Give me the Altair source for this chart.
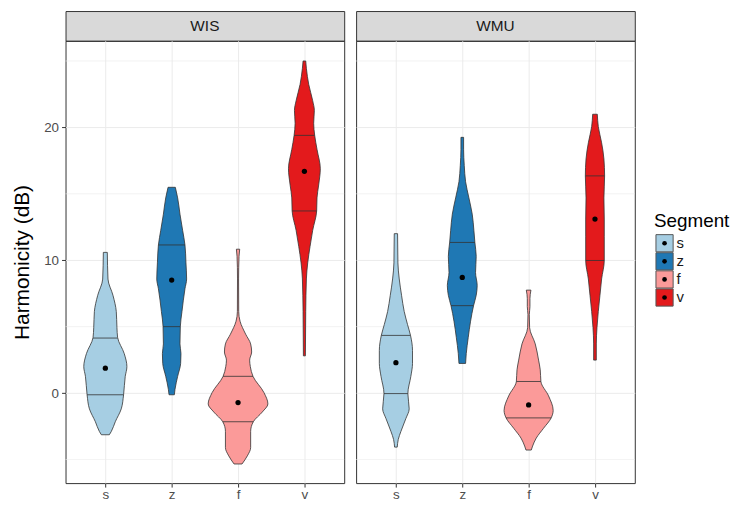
import altair as alt
import pandas as pd

FONT = "Liberation Sans"

segments = ["s", "z", "f", "v"]
facets = ["WIS", "WMU"]
fill_colors = ["#a6cee3", "#1f78b4", "#fb9a99", "#e31a1c"]
y_ticks = [0, 10, 20]
minor_ticks = [-5, 5, 15, 25]
y_range = [-6.78, 26.52]

# violin profiles: y (dB) and half-width (category units)
wis_s_y = [10.59, 8.58, 7.36, 6.14, 4.92, 4.19, 2.97, 1.99, 1.26, -0.13, -1.19, -2.16, -2.89, -3.14]
wis_s_w = [0.03, 0.04, 0.115, 0.165, 0.175, 0.185, 0.285, 0.325, 0.30, 0.275, 0.24, 0.15, 0.09, 0.06]
wis_z_y = [15.49, 14.69, 13.47, 12.25, 11.15, 9.80, 8.59, 7.85, 6.14, 5.00, 3.70, 2.97, 2.23, 1.26, 0.28, -0.13]
wis_z_w = [0.055, 0.09, 0.125, 0.165, 0.20, 0.215, 0.225, 0.20, 0.155, 0.13, 0.125, 0.14, 0.135, 0.09, 0.05, 0.04]
wis_f_y = [10.83, 10.29, 8.59, 6.14, 5.41, 4.43, 3.70, 3.09, 2.48, 1.99, 1.26, 0.04, -0.82, -1.43, -2.16, -2.89, -4.11, -4.73, -5.34]
wis_f_w = [0.025, 0.015, 0.008, 0.01, 0.03, 0.115, 0.19, 0.205, 0.175, 0.185, 0.225, 0.39, 0.45, 0.365, 0.23, 0.19, 0.19, 0.14, 0.06]
wis_v_y = [25.0, 24.45, 23.24, 22.01, 21.28, 20.31, 19.40, 18.35, 16.89, 15.66, 14.69, 13.71, 12.25, 11.03, 9.80, 8.59, 6.14, 2.80]
wis_v_w = [0.02, 0.03, 0.065, 0.125, 0.15, 0.14, 0.155, 0.19, 0.24, 0.215, 0.19, 0.185, 0.125, 0.085, 0.05, 0.03, 0.02, 0.015]

wmu_s_y = [12.0, 9.80, 8.59, 7.36, 6.14, 5.16, 4.34, 3.21, 2.23, 1.26, -0.04, -1.19, -1.92, -2.89, -3.50, -4.07]
wmu_s_w = [0.025, 0.03, 0.05, 0.085, 0.125, 0.175, 0.22, 0.25, 0.25, 0.225, 0.18, 0.2, 0.15, 0.075, 0.035, 0.02]
wmu_z_y = [19.25, 18.35, 17.13, 15.91, 14.69, 13.47, 12.25, 11.34, 10.29, 9.07, 8.10, 7.36, 6.58, 5.41, 4.19, 2.97, 2.23]
wmu_z_w = [0.02, 0.02, 0.03, 0.05, 0.10, 0.15, 0.175, 0.19, 0.21, 0.2, 0.225, 0.21, 0.17, 0.125, 0.09, 0.06, 0.05]
wmu_f_y = [7.75, 7.12, 6.51, 5.90, 4.92, 3.70, 2.48, 1.75, 0.87, -0.21, -1.31, -1.87, -2.65, -3.39, -3.99, -4.29]
wmu_f_w = [0.035, 0.02, 0.02, 0.01, 0.015, 0.10, 0.15, 0.175, 0.185, 0.30, 0.37, 0.34, 0.225, 0.115, 0.06, 0.04]
wmu_v_y = [20.99, 20.06, 18.84, 17.62, 16.35, 14.69, 13.10, 11.76, 9.98, 8.59, 7.36, 6.14, 4.92, 3.70, 2.48]
wmu_v_w = [0.035, 0.05, 0.10, 0.135, 0.145, 0.135, 0.14, 0.14, 0.14, 0.10, 0.075, 0.05, 0.03, 0.02, 0.02]

# means
wis_mean = [1.87, 8.51, -0.72, 16.69]
wmu_mean = [2.29, 8.70, -0.89, 13.10]

# quartiles (value and half-width of the violin there)
wis_q1 = [-0.13, 5.00, -2.16, 13.71]
wis_q1_w = [0.275, 0.13, 0.23, 0.185]
wis_q3 = [4.14, 11.15, 1.26, 19.40]
wis_q3_w = [0.185, 0.20, 0.225, 0.155]
wmu_q1 = [-0.04, 6.58, -1.87, 9.98]
wmu_q1_w = [0.18, 0.17, 0.34, 0.14]
wmu_q3 = [4.34, 11.34, 0.87, 16.35]
wmu_q3_w = [0.22, 0.19, 0.185, 0.145]

profiles = {
    "WIS": [(wis_s_y, wis_s_w), (wis_z_y, wis_z_w), (wis_f_y, wis_f_w), (wis_v_y, wis_v_w)],
    "WMU": [(wmu_s_y, wmu_s_w), (wmu_z_y, wmu_z_w), (wmu_f_y, wmu_f_w), (wmu_v_y, wmu_v_w)],
}
means = {"WIS": wis_mean, "WMU": wmu_mean}
quarts = {
    "WIS": [(wis_q1, wis_q1_w), (wis_q3, wis_q3_w)],
    "WMU": [(wmu_q1, wmu_q1_w), (wmu_q3, wmu_q3_w)],
}

PW, PH, SH = 281, 446, 30

cscale = alt.Scale(domain=segments, range=fill_colors)
xscale = alt.Scale(domain=[-0.6, len(segments) - 0.4], nice=False, zero=False)
yscale = alt.Scale(domain=y_range, nice=False, zero=False)
label_expr = "[" + ",".join("'%s'" % s for s in segments) + "][datum.value]"


def body(p, first):
    vrows = []
    for i, s in enumerate(segments):
        ys, ws = profiles[p][i]
        for yv, wv in zip(ys, ws):
            vrows.append({"seg": s, "idx": i, "y": yv, "w": wv})
    qrows = []
    for vals, widths in quarts[p]:
        for i, s in enumerate(segments):
            qrows.append({"seg": s, "idx": i, "y": vals[i], "w": widths[i]})
    mrows = [{"seg": s, "idx": i, "y": means[p][i]} for i, s in enumerate(segments)]

    if first:
        yax = alt.Axis(values=y_ticks, grid=True, title="Harmonicity (dB)", titlePadding=11)
    else:
        yax = alt.Axis(values=y_ticks, grid=True, labels=False, ticks=False, title=None)
    xax = alt.Axis(values=list(range(len(segments))), labelExpr=label_expr, grid=True,
                   title=None, labelPadding=1)

    minor = alt.Chart(pd.DataFrame({"g": minor_ticks})).mark_rule(
        color="#ebebeb", strokeWidth=0.6
    ).encode(y=alt.Y("g:Q", scale=yscale, axis=yax))

    violins = alt.Chart(pd.DataFrame(vrows)).transform_calculate(
        lo="datum.idx - datum.w", hi="datum.idx + datum.w"
    ).mark_area(
        orient="horizontal", interpolate="monotone", stroke="#333333", strokeWidth=0.8, opacity=1
    ).encode(
        y=alt.Y("y:Q", scale=yscale),
        x=alt.X("lo:Q", scale=xscale, axis=xax),
        x2="hi:Q",
        color=alt.Color("seg:N", scale=cscale, legend=None),
    )

    qlines = alt.Chart(pd.DataFrame(qrows)).transform_calculate(
        lo="datum.idx - datum.w", hi="datum.idx + datum.w"
    ).mark_rule(color="#333333", strokeWidth=0.8).encode(
        y=alt.Y("y:Q", scale=yscale), x=alt.X("lo:Q", scale=xscale), x2="hi:Q"
    )

    dots = alt.Chart(pd.DataFrame(mrows)).mark_circle(color="black", size=28, opacity=1).encode(
        x=alt.X("idx:Q", scale=xscale), y=alt.Y("y:Q", scale=yscale)
    )

    return alt.layer(minor, violins, qlines, dots).properties(
        width=PW, height=PH, view=alt.ViewBackground(stroke="#333333", strokeWidth=1)
    )


def strip(p):
    return alt.Chart(pd.DataFrame({"panel": [p]})).mark_text(
        font=FONT, fontSize=15.5, color="#1a1a1a"
    ).encode(text="panel:N").properties(
        width=PW, height=SH,
        view=alt.ViewBackground(fill="#d9d9d9", stroke="#333333", strokeWidth=1),
    )


panel_charts = [
    alt.vconcat(strip(p), body(p, k == 0), spacing=0, bounds="flush")
    for k, p in enumerate(facets)
]

ldf = pd.DataFrame({"seg": segments})
ly = alt.Y("seg:N", sort=segments, axis=None)
keys = alt.layer(
    alt.Chart(ldf).mark_square(size=300, opacity=1, stroke="#555555", strokeWidth=1).encode(
        y=ly, color=alt.Color("seg:N", scale=cscale, legend=None)
    ),
    alt.Chart(ldf).mark_circle(color="black", size=22, opacity=1).encode(y=ly),
    alt.Chart(ldf).mark_text(align="left", dx=12, font=FONT, fontSize=15, color="#1a1a1a").encode(
        y=ly, text="seg:N"
    ),
).properties(
    width=18, height=73,
    title=alt.TitleParams("Segment", anchor="start", font=FONT, fontSize=19,
                          fontWeight="normal", color="#000000", offset=2),
)
spacer = alt.Chart(pd.DataFrame({"a": [0]})).mark_point(opacity=0).properties(width=18, height=201)
legend_col = alt.vconcat(spacer, keys, spacing=0)

chart = alt.hconcat(
    alt.hconcat(*panel_charts, spacing=10), legend_col, spacing=17
).properties(
    padding={"left": 3, "top": 0, "right": 0, "bottom": 0}
).configure_view(
    stroke="transparent"
).configure_axis(
    gridColor="#ebebeb", gridWidth=1, tickColor="#333333", tickSize=4,
    labelColor="#4d4d4d", labelFont=FONT, labelFontSize=13.5, labelPadding=3,
    titleFont=FONT, titleFontSize=21, titleFontWeight="normal", titleColor="#000000",
    domain=False,
).configure_title(font=FONT)

chart.save("out.html", embed_options={"renderer": "svg", "actions": False})
